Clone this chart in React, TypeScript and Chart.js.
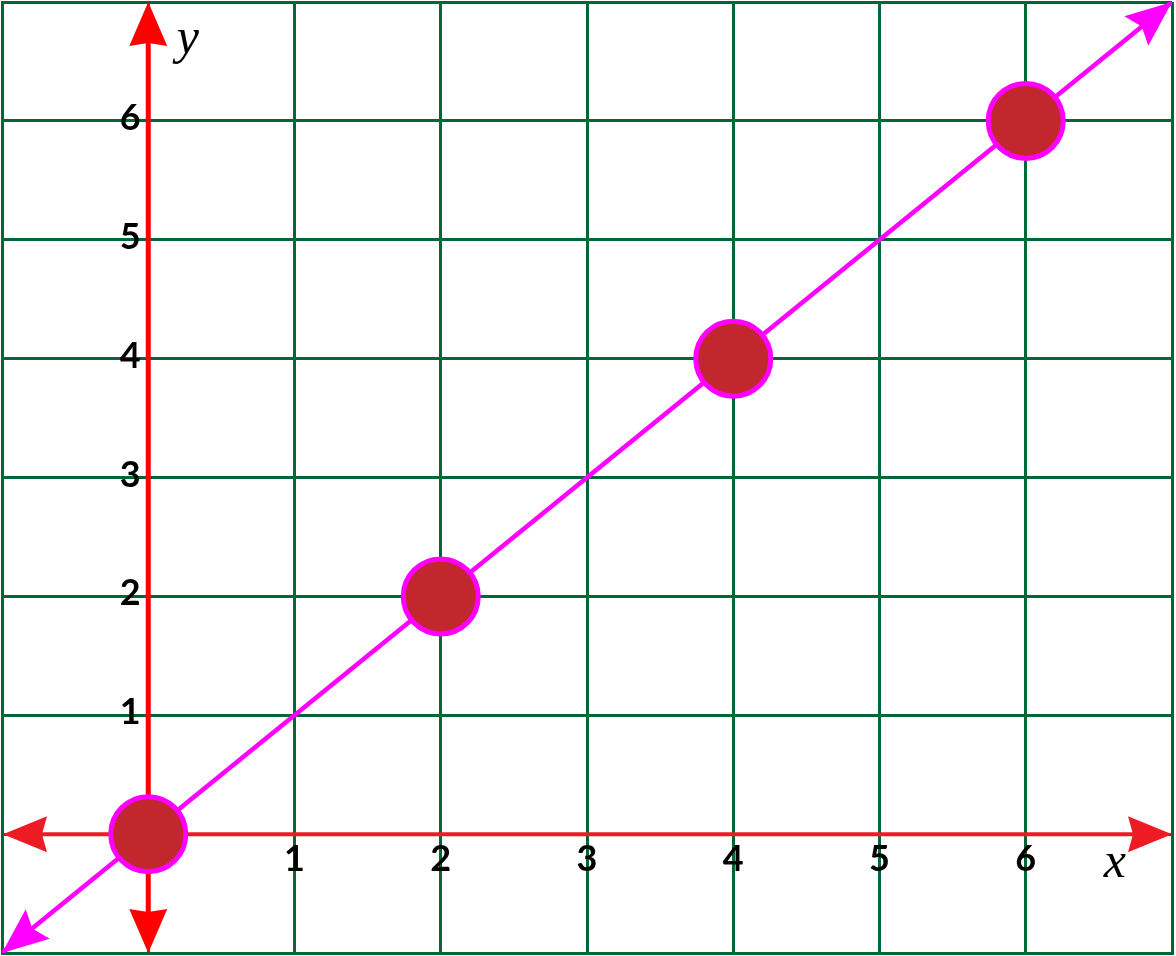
import React, { useEffect, useRef } from "react";
import { Chart, registerables } from "chart.js";

Chart.register(...registerables);

// ---- data ----
const axisMin = -1;
const axisMax = 7;
const xTickValues = [1, 2, 3, 4, 5, 6];
const xTickLabels = ["1", "2", "3", "4", "5", "6"];
const yTickValues = [1, 2, 3, 4, 5, 6];
const yTickLabels = ["1", "2", "3", "4", "5", "6"];
const pointX = [0, 2, 4, 6];
const pointY = [0, 2, 4, 6];
const lineX = [-1, 7];
const lineY = [-1, 7];
const xAxisName = "x";
const yAxisName = "y";

const GRID = "#006837";
const RED_Y = "#ff0000";
const RED_X = "#ed1c24";
const MAGENTA = "#ff00ff";
const DOT = "#c1272d";

function arrowHead(
  ctx: CanvasRenderingContext2D,
  tipX: number,
  tipY: number,
  fromX: number,
  fromY: number,
  len: number,
  half: number,
  notch: number,
  color: string
) {
  const ang = Math.atan2(tipY - fromY, tipX - fromX);
  ctx.save();
  ctx.translate(tipX, tipY);
  ctx.rotate(ang);
  ctx.beginPath();
  ctx.moveTo(0, 0);
  ctx.lineTo(-len, -half);
  ctx.lineTo(-len + notch, 0);
  ctx.lineTo(-len, half);
  ctx.closePath();
  ctx.fillStyle = color;
  ctx.fill();
  ctx.restore();
}

const axesPlugin = {
  id: "redAxes",
  beforeDatasetsDraw(chart: any) {
    const ctx: CanvasRenderingContext2D = chart.ctx;
    const xs = chart.scales.x;
    const ys = chart.scales.y;
    const x0 = xs.getPixelForValue(0);
    const y0 = ys.getPixelForValue(0);
    const xl = xs.getPixelForValue(axisMin) + 1;
    const xr = xs.getPixelForValue(axisMax);
    const yt = ys.getPixelForValue(axisMax);
    const yb = ys.getPixelForValue(axisMin);
    ctx.save();
    // x axis
    ctx.strokeStyle = RED_X;
    ctx.lineWidth = 4;
    ctx.beginPath();
    ctx.moveTo(xl + 30, y0);
    ctx.lineTo(xr - 30, y0);
    ctx.stroke();
    arrowHead(ctx, xl, y0, x0, y0, 44, 18, 5, RED_X);
    arrowHead(ctx, xr, y0, x0, y0, 44, 18, 5, RED_X);
    // y axis
    ctx.strokeStyle = RED_Y;
    ctx.lineWidth = 5;
    ctx.beginPath();
    ctx.moveTo(x0, yb - 30);
    ctx.lineTo(x0, yt + 30);
    ctx.stroke();
    arrowHead(ctx, x0, yt, x0, y0, 44, 19, 3, RED_Y);
    arrowHead(ctx, x0, yb, x0, y0, 44, 19, 3, RED_Y);
    ctx.restore();
  },
  afterDatasetsDraw(chart: any) {
    const ctx: CanvasRenderingContext2D = chart.ctx;
    const xs = chart.scales.x;
    const ys = chart.scales.y;
    const p0x = xs.getPixelForValue(lineX[0]);
    const p0y = ys.getPixelForValue(lineY[0]);
    const p1x = xs.getPixelForValue(lineX[1]);
    const p1y = ys.getPixelForValue(lineY[1]);
    ctx.save();
    arrowHead(ctx, p1x, p1y, p0x, p0y, 46, 19, 7, MAGENTA);
    arrowHead(ctx, p0x, p0y, p1x, p1y, 46, 19, 7, MAGENTA);
    ctx.restore();
  },
  afterDraw(chart: any) {
    const ctx: CanvasRenderingContext2D = chart.ctx;
    const xs = chart.scales.x;
    const ys = chart.scales.y;
    const x0 = xs.getPixelForValue(0);
    const y0 = ys.getPixelForValue(0);
    ctx.save();
    ctx.fillStyle = "#000000";
    ctx.font = "bold 36px Lato";
    ctx.textAlign = "center";
    ctx.textBaseline = "alphabetic";
    xTickValues.forEach((v, i) => {
      ctx.fillText(xTickLabels[i], xs.getPixelForValue(v), y0 + 37);
    });
    yTickValues.forEach((v, i) => {
      ctx.fillText(yTickLabels[i], x0 - 18, ys.getPixelForValue(v) + 9);
    });
    ctx.font = "italic 50px 'Liberation Serif'";
    ctx.fillText(xAxisName, xs.getPixelForValue(6.61), y0 + 43);
    ctx.fillText(yAxisName, xs.getPixelForValue(0.27), ys.getPixelForValue(6.57));
    ctx.restore();
  },
};

export default function App() {
  const ref = useRef<HTMLCanvasElement | null>(null);
  useEffect(() => {
    if (!ref.current) return;
    const chart = new Chart(ref.current, {
      type: "scatter",
      data: {
        datasets: [
          {
            data: lineX.map((x, i) => ({ x, y: lineY[i] })),
            showLine: true,
            borderColor: MAGENTA,
            borderWidth: 4.5,
            pointRadius: 0,
            order: 2,
          },
          {
            data: pointX.map((x, i) => ({ x, y: pointY[i] })),
            showLine: false,
            backgroundColor: DOT,
            borderColor: MAGENTA,
            borderWidth: 5,
            pointRadius: 37.5,
            pointHoverRadius: 37.5,
            order: 1,
          },
        ],
      },
      options: {
        responsive: false,
        animation: false,
        events: [],
        layout: { autoPadding: false, padding: { left: 2, top: 2, right: 4, bottom: 3 } },
        plugins: { legend: { display: false }, tooltip: { enabled: false } },
        scales: {
          x: {
            type: "linear",
            min: axisMin,
            max: axisMax,
            ticks: { display: false, stepSize: 1 },
            grid: { color: GRID, lineWidth: 3, drawTicks: false },
            border: { display: true, color: GRID, width: 3 },
          },
          y: {
            type: "linear",
            min: axisMin,
            max: axisMax,
            ticks: { display: false, stepSize: 1 },
            grid: { color: GRID, lineWidth: 3, drawTicks: false },
            border: { display: true, color: GRID, width: 3 },
          },
        },
      },
      plugins: [axesPlugin],
    });
    return () => chart.destroy();
  }, []);
  return (
    <div
      style={{
        position: "fixed",
        left: 0,
        top: 0,
        width: 1176,
        height: 956,
        background: "#ffffff",
      }}
    >
      <canvas ref={ref} width={1176} height={956} style={{ display: "block" }} />
    </div>
  );
}
